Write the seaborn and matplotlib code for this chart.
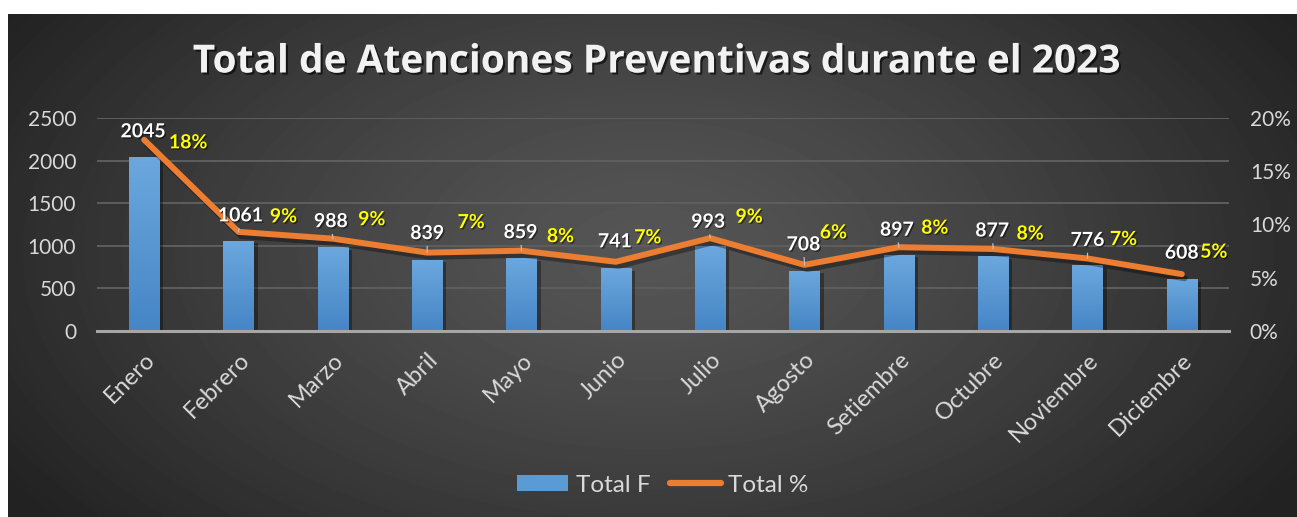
import numpy as np
import matplotlib
matplotlib.use('Agg')
import matplotlib.pyplot as plt
import matplotlib.patheffects as pe
from matplotlib.patches import Patch
from matplotlib.lines import Line2D
from matplotlib.colors import LinearSegmentedColormap
from matplotlib.ticker import PercentFormatter
import seaborn as sns

# datos
months = ['Enero', 'Febrero', 'Marzo', 'Abril', 'Mayo', 'Junio', 'Julio',
          'Agosto', 'Setiembre', 'Octubre', 'Noviembre', 'Diciembre']
total_f = [2045, 1061, 988, 839, 859, 741, 993, 708, 897, 877, 776, 608]
total_pct = [0.1795, 0.0931, 0.0867, 0.0736, 0.0754, 0.0650,
             0.0872, 0.0621, 0.0787, 0.0770, 0.0681, 0.0534]
pct_labels = ['18%', '9%', '9%', '7%', '8%', '7%', '9%', '6%', '8%', '8%', '7%', '5%']
title = 'Total de Atenciones Preventivas durante el 2023'

# desplazamiento de etiquetas (pixeles) respecto al punto de la linea
val_off = [(-1, 8), (2, 16), (-2, 17), (0, 19), (-1, 18), (-1, 20),
           (-2, 16), (-1, 20), (-2, 17), (-1, 18), (0, 18), (0, 21)]
pct_off = [(44, -3), (45, 15), (39, 19), (44, 30), (39, 14), (32, 24),
           (39, 21), (29, 32), (36, 19), (37, 15), (36, 19), (32, 22)]
leader = [False, True, True, True, True, False, True, True, True, True, True, False]

BLUE = '#5b9bd5'
ORANGE = '#ed7d31'
TXT = '#d9d9d9'

plt.rcParams['font.family'] = ['Lato', 'DejaVu Sans']

W, H = 1297, 517
fig = plt.figure(figsize=(W / 100, H / 100), dpi=100, facecolor='white')

# fondo con degradado radial
bg = fig.add_axes([8 / W, 0, 1 - 8 / W, 1 - 14 / H], zorder=-1)
ny, nx = 503, 1289
yy, xx = np.mgrid[0:ny, 0:nx]
r = np.sqrt(((xx - 640) / 760.0) ** 2 + ((yy - 236) / 430.0) ** 2)
r = np.clip(r, 0, 1)
shade = 0.335 - (0.335 - 0.135) * r ** 1.3
bg.imshow(shade, cmap='gray', vmin=0, vmax=1, aspect='auto', interpolation='bilinear')
bg.axis('off')

ax = fig.add_axes([97 / W, 186 / H, 1132 / W, 213 / H])
ax.patch.set_alpha(0)

sns.barplot(x=months, y=total_f, color=BLUE, saturation=1, width=0.32, ax=ax, zorder=2)

# degradado en las barras
cmap_bar = LinearSegmentedColormap.from_list('barras', ['#4685c6', '#6ca8de'])
grad = np.linspace(0, 1, 64).reshape(-1, 1)
for p in ax.patches:
    x0, y0 = p.get_x(), p.get_y()
    w, h = p.get_width(), p.get_height()
    p.set_path_effects([pe.SimplePatchShadow(offset=(3, -2), shadow_rgbFace='black', alpha=0.35), pe.Normal()])
    im = ax.imshow(grad, extent=[x0, x0 + w, y0, y0 + h], origin='lower', cmap=cmap_bar,
                   aspect='auto', zorder=2.1)
    im.set_clip_path(p)

ax.set_xlim(-0.5, len(months) - 0.5)
ax.set_ylim(0, 2500)
ax.set_yticks(range(0, 2501, 500))
ax.set_xlabel('')
ax.set_ylabel('')
ax.yaxis.grid(True, color='#5e5e5e', lw=1.4)
ax.xaxis.grid(False)
ax.set_axisbelow(True)
for s in ['top', 'left', 'right']:
    ax.spines[s].set_visible(False)
ax.spines['bottom'].set_color('#a6a6a6')
ax.spines['bottom'].set_linewidth(2.2)
ax.tick_params(axis='y', length=0, pad=15, labelsize=15, labelcolor=TXT)
ax.tick_params(axis='x', length=0, pad=13, labelsize=17, labelcolor=TXT)
plt.setp(ax.get_xticklabels(), rotation=45, ha='right', va='top', rotation_mode='anchor')

ax2 = ax.twinx()
sns.lineplot(x=np.arange(len(months)), y=total_pct, ax=ax2, color=ORANGE, lw=4.3)
ln = ax2.lines[0]
ln.set_solid_joinstyle('round')
ln.set_solid_capstyle('round')
ln.set_path_effects([pe.SimpleLineShadow(offset=(2, -3), shadow_color='black', alpha=0.35),
                     pe.Normal()])
ax2.set_ylim(0, 0.2)
ax2.set_yticks(np.arange(0, 0.21, 0.05))
ax2.yaxis.set_major_formatter(PercentFormatter(1, decimals=0))
ax2.set_xlim(-0.5, len(months) - 0.5)
ax2.set_ylabel('')
for s in ax2.spines.values():
    s.set_visible(False)
ax2.tick_params(axis='y', length=0, pad=15, labelsize=15, labelcolor=TXT)

lbl_fx = [pe.withSimplePatchShadow(offset=(1, -1), shadow_rgbFace='black', alpha=0.5)]
for i in range(len(months)):
    arrow = dict(arrowstyle='-', color='#bfbfbf', lw=0.9, shrinkA=1, shrinkB=0) if leader[i] else None
    ax2.annotate(str(total_f[i]), xy=(i, total_pct[i]), xytext=val_off[i],
                 textcoords='offset pixels', ha='center', va='center',
                 fontsize=14, fontweight='bold', color='white',
                 arrowprops=arrow, path_effects=lbl_fx)
    ax2.annotate(pct_labels[i], xy=(i, total_pct[i]), xytext=pct_off[i],
                 textcoords='offset pixels', ha='center', va='center',
                 fontsize=14, fontweight='bold', color='#ffff00', path_effects=lbl_fx)

fig.text(656 / W, 1 - 62 / H, title, ha='center', va='center', fontsize=28,
         fontweight='bold', color='#f2f2f2', family=['Open Sans', 'DejaVu Sans'],
         path_effects=[pe.withSimplePatchShadow(offset=(1.5, -1.5), shadow_rgbFace='black', alpha=0.6)])

handles = [Patch(facecolor=BLUE),
           Line2D([0], [0], color=ORANGE, lw=4.5, solid_capstyle='round')]
fig.legend(handles, ['Total F', 'Total %'], loc='center', bbox_to_anchor=(663 / W, 1 - 485 / H),
           ncol=2, frameon=False, fontsize=17.5, labelcolor=TXT, handlelength=2.1,
           handleheight=0.66, columnspacing=0.8, handletextpad=0.3)

fig.savefig('out.png', dpi=100, facecolor='white')
